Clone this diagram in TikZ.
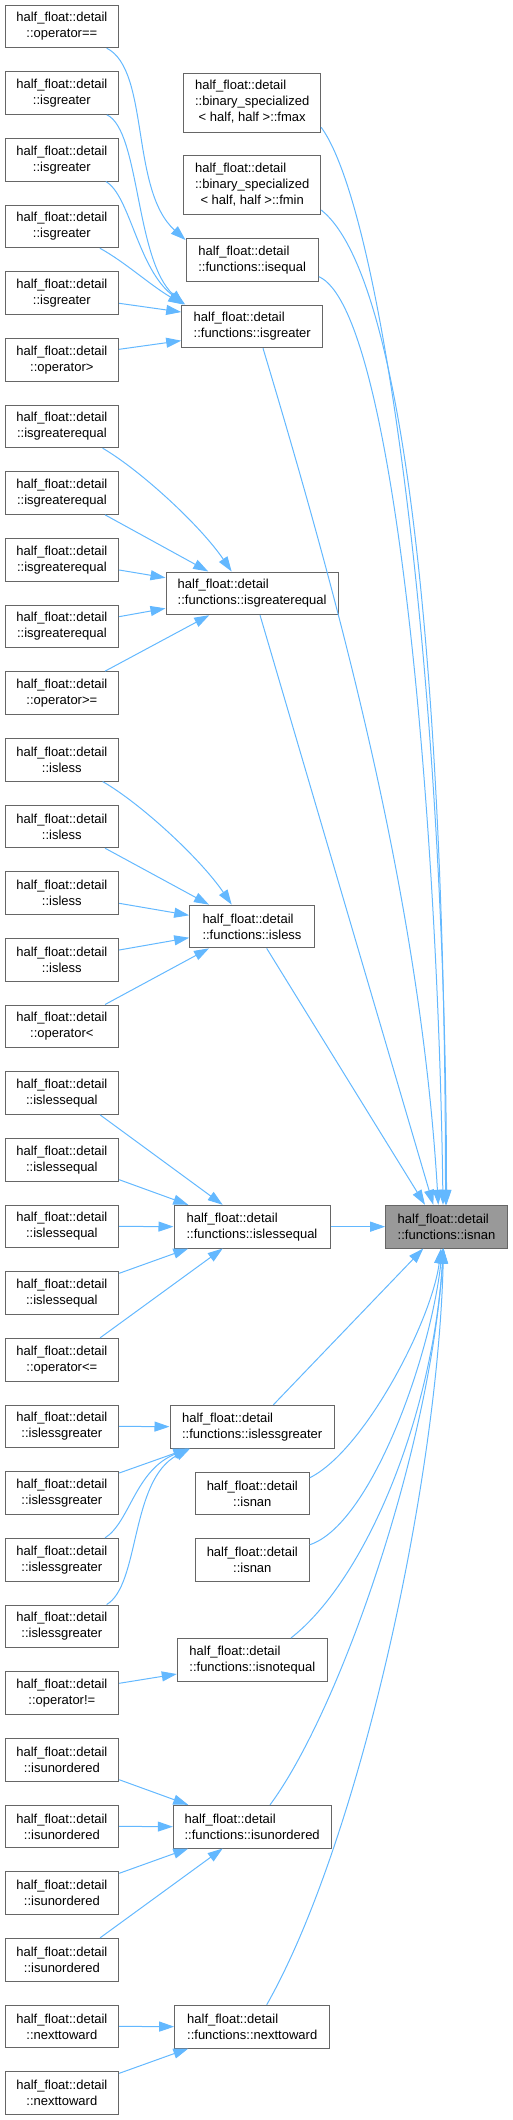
\documentclass[tikz,border=0pt]{standalone}
\usepackage{fontspec}
\setmainfont{Liberation Sans}
\usetikzlibrary{arrows.meta}
\definecolor{edgec}{HTML}{63B8FF}
\definecolor{boxc}{HTML}{666666}
\definecolor{rootc}{HTML}{999999}
\newcommand{\hfd}{half\_float::detail}
\begin{document}
\begin{tikzpicture}[x=1pt,y=-1pt,
  box/.style={draw=boxc, line width=1pt, fill=white, inner sep=0pt, font=\fontsize{13}{16}\selectfont, align=center},
  lbox/.style={box, minimum width=113.7pt, minimum height=42.7pt},
  mbox/.style={box, align=left, minimum height=42.7pt},
  tbox/.style={box, minimum width=137pt, minimum height=59pt},
  edge/.style={draw=edgec, line width=1pt, -{Triangle[length=15pt,width=10pt]}}
]
\useasboundingbox (0,0) rectangle (513,2120);

% left column
\node[lbox] (L0) at (61.85,26.35) {\hfd\\::operator==};
\node[lbox] (L1) at (61.85,93.0) {\hfd\\::isgreater};
\node[lbox] (L2) at (61.85,159.7) {\hfd\\::isgreater};
\node[lbox] (L3) at (61.85,226.35) {\hfd\\::isgreater};
\node[lbox] (L4) at (61.85,293.0) {\hfd\\::isgreater};
\node[lbox] (L5) at (61.85,359.7) {\hfd\\::operator>};
\node[lbox] (L6) at (61.85,426.35) {\hfd\\::isgreaterequal};
\node[lbox] (L7) at (61.85,493.0) {\hfd\\::isgreaterequal};
\node[lbox] (L8) at (61.85,559.7) {\hfd\\::isgreaterequal};
\node[lbox] (L9) at (61.85,626.35) {\hfd\\::isgreaterequal};
\node[lbox] (L10) at (61.85,693.0) {\hfd\\::operator>=};
\node[lbox] (L11) at (61.85,759.7) {\hfd\\::isless};
\node[lbox] (L12) at (61.85,826.35) {\hfd\\::isless};
\node[lbox] (L13) at (61.85,893.0) {\hfd\\::isless};
\node[lbox] (L14) at (61.85,959.7) {\hfd\\::isless};
\node[lbox] (L15) at (61.85,1026.35) {\hfd\\::operator<};
\node[lbox] (L16) at (61.85,1093.0) {\hfd\\::islessequal};
\node[lbox] (L17) at (61.85,1159.7) {\hfd\\::islessequal};
\node[lbox] (L18) at (61.85,1226.35) {\hfd\\::islessequal};
\node[lbox] (L19) at (61.85,1293.0) {\hfd\\::islessequal};
\node[lbox] (L20) at (61.85,1359.7) {\hfd\\::operator<=};
\node[lbox] (L21) at (61.85,1426.35) {\hfd\\::islessgreater};
\node[lbox] (L22) at (61.85,1493.0) {\hfd\\::islessgreater};
\node[lbox] (L23) at (61.85,1559.7) {\hfd\\::islessgreater};
\node[lbox] (L24) at (61.85,1626.35) {\hfd\\::islessgreater};
\node[lbox] (L25) at (61.85,1693.0) {\hfd\\::operator!=};
\node[lbox] (L26) at (61.85,1759.7) {\hfd\\::isunordered};
\node[lbox] (L27) at (61.85,1826.35) {\hfd\\::isunordered};
\node[lbox] (L28) at (61.85,1893.0) {\hfd\\::isunordered};
\node[lbox] (L29) at (61.85,1959.7) {\hfd\\::isunordered};
\node[lbox] (L30) at (61.85,2026.35) {\hfd\\::nexttoward};
\node[lbox] (L31) at (61.85,2093.0) {\hfd\\::nexttoward};

% middle column
\node[tbox] (fmax) at (252.2,102.5) {\begin{tabular}{@{}l@{}}\hfd\\::binary\_specialized\\\multicolumn{1}{@{}c@{}}{< half, half >::fmax}\end{tabular}};
\node[tbox] (fmin) at (252.2,185.2) {\begin{tabular}{@{}l@{}}\hfd\\::binary\_specialized\\\multicolumn{1}{@{}c@{}}{< half, half >::fmin}\end{tabular}};
\node[mbox, minimum width=132.3pt] (E) at (252.2,259.85) {\hfd\\::functions::isequal};
\node[mbox, minimum width=141pt] (G) at (252.2,326.35) {\hfd\\::functions::isgreater};
\node[mbox, minimum width=172.3pt] (GE) at (252.15,593.35) {\hfd\\::functions::isgreaterequal};
\node[mbox, minimum width=124.6pt] (LS) at (252,926.5) {\hfd\\::functions::isless};
\node[mbox, minimum width=156pt] (LE) at (252,1226.65) {\hfd\\::functions::islessequal};
\node[mbox, minimum width=121.6pt, fill=rootc] (N) at (446.5,1226.65) {\hfd\\::functions::isnan};
\node[mbox, minimum width=164.3pt] (LG) at (252.15,1426.65) {\hfd\\::functions::islessgreater};
\node[box, minimum width=114pt, minimum height=42.7pt] (I1) at (252.3,1493.35) {\hfd\\::isnan};
\node[box, minimum width=114pt, minimum height=42.7pt] (I2) at (252.3,1560) {\hfd\\::isnan};
\node[mbox, minimum width=150pt] (NE) at (252.3,1659.8) {\hfd\\::functions::isnotequal};
\node[mbox, minimum width=157.7pt] (UO) at (252.15,1826.65) {\hfd\\::functions::isunordered};
\node[mbox, minimum width=155pt] (NT) at (252.2,2026.65) {\hfd\\::functions::nexttoward};

% isequal / isgreater group
\draw[edge] ([xshift=44.9pt]L0.south) .. controls (150,70) and (130,190) .. ([yshift=-2pt]E.north west);
\draw[edge] ([xshift=45pt]L1.south) .. controls (140,130) and (135,260) .. ([xshift=3pt]G.north west);
\draw[edge] ([xshift=44pt]L2.south) .. controls (130,195) and (138,270) .. ([xshift=4pt]G.north west);
\draw[edge] ([xshift=38pt]L3.south) .. controls (125,262) and (150,285) .. ([xshift=2pt]G.north west);
\draw[edge] ([yshift=-10.3pt]L4.east) -- ([yshift=14.3pt]G.west);
\draw[edge] ([yshift=10.4pt]L5.east) -- ([yshift=-14.3pt]G.west);

% isgreaterequal group
\draw[edge] ([xshift=40.8pt]L6.south) .. controls (140,470) and (200,525) .. ([xshift=-20.5pt]GE.north);
\draw[edge] ([xshift=43.2pt]L7.south) -- ([xshift=-43.9pt]GE.north);
\draw[edge] ([yshift=-10.3pt]L8.east) -- ([yshift=15.6pt]GE.west);
\draw[edge] ([yshift=9.7pt]L9.east) -- ([yshift=-15pt]GE.west);
\draw[edge] ([xshift=43.2pt]L10.north) -- ([xshift=-42.9pt]GE.south);

% isless group
\draw[edge] ([xshift=40.8pt]L11.south) .. controls (140,803) and (200,858) .. ([xshift=-20.3pt]LS.north);
\draw[edge] ([xshift=43.2pt]L12.south) -- ([xshift=-43pt]LS.north);
\draw[edge] ([yshift=-10.3pt]L13.east) -- ([yshift=11.2pt]LS.west);
\draw[edge] ([yshift=9.7pt]L14.east) -- ([yshift=-11.2pt]LS.west);
\draw[edge] ([xshift=43.2pt]L15.north) -- ([xshift=-43pt]LS.south);

% islessequal group
\draw[edge] ([xshift=38.2pt]L16.south) -- ([xshift=-29.3pt]LE.north);
\draw[edge] ([yshift=-20pt]L17.east) -- ([xshift=-63.7pt]LE.north);
\draw[edge] (L18.east) -- (LE.west);
\draw[edge] ([yshift=19.7pt]L19.east) -- ([xshift=-63.7pt]LE.south);
\draw[edge] ([xshift=38.2pt]L20.north) -- ([xshift=-29.3pt]LE.south);

% islessgreater group
\draw[edge] (L21.east) -- (LG.west);
\draw[edge] ([yshift=20pt]L22.east) -- ([xshift=-63.9pt]LG.south);
\draw[edge] ([xshift=43.2pt]L23.north) .. controls (130,1522) and (135,1470) .. ([xshift=-63pt]LG.south);
\draw[edge] ([xshift=44.8pt]L24.north) .. controls (140,1585) and (130,1480) .. ([xshift=-62pt]LG.south);

% isnotequal
\draw[edge] ([yshift=9.7pt]L25.east) -- ([yshift=-14.2pt]NE.west);

% isunordered group
\draw[edge] ([yshift=-20pt]L26.east) -- ([xshift=-63.9pt]UO.north);
\draw[edge] (L27.east) -- (UO.west);
\draw[edge] ([yshift=19.7pt]L28.east) -- ([xshift=-63.9pt]UO.south);
\draw[edge] ([xshift=38.2pt]L29.north) -- ([xshift=-29.5pt]UO.south);

% nexttoward group
\draw[edge] (L30.east) -- (NT.west);
\draw[edge] ([yshift=19.7pt]L31.east) -- ([xshift=-63.9pt]NT.south);

% into isnan
\draw[edge] ([yshift=-24.8pt]fmax.east) .. controls (385,215) and (446.5,700) .. (N.north);
\draw[edge] ([yshift=-24.8pt]fmin.east) .. controls (410,280) and (445.5,720) .. ([xshift=-1pt]N.north);
\draw[edge] ([yshift=-16.8pt]E.east) .. controls (395,310) and (438,820) .. ([xshift=-3.5pt]N.north);
\draw[edge] ([xshift=10.8pt]G.south) .. controls (338,598) and (420,897) .. ([xshift=-8.2pt]N.north);
\draw[edge] ([xshift=7.9pt]GE.south) -- ([xshift=-13.2pt]N.north);
\draw[edge] ([xshift=14.7pt]LS.south) -- ([xshift=-21.5pt]N.north);
\draw[edge] (LE.east) -- (N.west);
\draw[edge] ([xshift=21.2pt]LG.north) -- ([xshift=-23.2pt]N.south);
\draw[edge] ([yshift=15.6pt]I1.east) .. controls (365,1450) and (432,1320) .. ([xshift=-5.5pt]N.south);
\draw[edge] ([yshift=15.3pt]I2.east) .. controls (370,1525) and (430,1360) .. ([xshift=-4pt]N.south);
\draw[edge] ([xshift=38.7pt]NE.north) .. controls (365,1580) and (432,1420) .. ([xshift=-3pt]N.south);
\draw[edge] ([xshift=17.9pt]UO.north) .. controls (340,1710) and (430,1450) .. ([xshift=-3pt]N.south);
\draw[edge] ([xshift=14.5pt]NT.north) .. controls (360,1840) and (438,1480) .. ([xshift=-3pt]N.south);
\end{tikzpicture}
\end{document}
